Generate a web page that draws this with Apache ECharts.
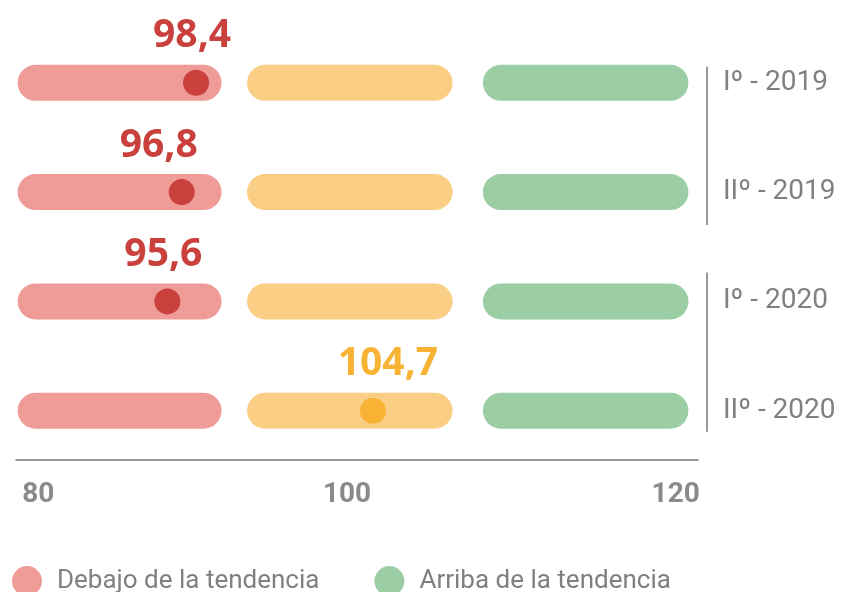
<!DOCTYPE html>
<html>
<head>
<meta charset="utf-8">
<script src="https://cdn.jsdelivr.net/npm/echarts@6/dist/echarts.min.js"></script>
<style>
  html, body { margin: 0; padding: 0; background: #fff; }
  #chart { width: 842px; height: 592px; }
</style>
</head>
<body>
<div id="chart"></div>
<script>
var periods = ['Iº - 2019', 'IIº - 2019', 'Iº - 2020', 'IIº - 2020'];
var debajoRange = [78.7, 91.5];
var enRange = [93.1, 106.0];
var arribaRange = [107.9, 120.8];
var dotPos = [89.9, 89.0, 88.1, 101.0];
var dotValue = [98.4, 96.8, 95.6, 104.7];
var tickLabels = [80, 100, 120];
var years = [[0, 1], [2, 3]];

var labelShift = [-4, -23, -4, 15];

var box = echarts.init(document.getElementById('chart'));

function bandData(range) {
    return periods.map(function (p, i) { return [i, range[0], range[1]]; });
}

function renderBand(params, api) {
    var a = api.coord([api.value(1), api.value(0)]);
    var b = api.coord([api.value(2), api.value(0)]);
    var h = 36;
    return {
        type: 'rect',
        shape: { x: a[0], y: a[1] - h / 2, width: b[0] - a[0], height: h, r: h / 2 },
        style: { fill: api.visual('color') }
    };
}

function bandSeries(name, range, color) {
    return {
        name: name,
        type: 'custom',
        renderItem: renderBand,
        itemStyle: { color: color },
        encode: { x: [1, 2], y: 0 },
        data: bandData(range),
        silent: true
    };
}

var pad = [[-16, 33], [-29, 21]];

option = {
    animation: false,
    grid: {
        left: 16,
        right: 144,
        top: 28.15,
        bottom: 126.65
    },
    legend: {
        data: ['Debajo de la tendencia', 'Arriba de la tendencia'],
        left: 7,
        top: 561,
        icon: 'circle',
        itemWidth: 30,
        itemHeight: 30,
        itemGap: 55,
        selectedMode: false,
        textStyle: {
            fontFamily: 'Roboto',
            fontSize: 26,
            color: '#808080',
            padding: [0, 0, 0, 10]
        }
    },
    xAxis: {
        type: 'value',
        min: 78.6,
        max: 121.4,
        offset: -6,
        splitLine: { show: false },
        axisTick: { show: false },
        axisLine: { show: true, lineStyle: { color: '#777', width: 1.5 } },
        axisLabel: {
            customValues: tickLabels,
            margin: 22,
            fontFamily: 'Roboto',
            fontSize: 28,
            fontWeight: 'bold',
            color: '#8a8a8a',
            formatter: function (v) {
                return v === 100 ? '{mid|' + v + '}' : String(v);
            },
            rich: {
                mid: {
                    fontFamily: 'Roboto',
                    fontSize: 28,
                    fontWeight: 'bold',
                    color: '#8a8a8a',
                    padding: [0, 20, 0, 0]
                }
            }
        }
    },
    yAxis: {
        type: 'category',
        data: periods,
        inverse: true,
        position: 'right',
        axisLine: { show: false },
        axisTick: { show: false },
        axisLabel: {
            margin: 25,
            fontFamily: 'Roboto',
            fontSize: 28,
            color: '#808080'
        }
    },
    series: [
        bandSeries('Debajo de la tendencia', debajoRange, '#EF9B97'),
        bandSeries('En la tendencia', enRange, '#FACE85'),
        bandSeries('Arriba de la tendencia', arribaRange, '#9CCEA5'),
        {
            type: 'custom',
            silent: true,
            clip: false,
            renderItem: function (params, api) {
                var top = api.coord([100, api.value(0)]);
                var bot = api.coord([100, api.value(1)]);
                var x = params.coordSys.x + params.coordSys.width + 9;
                var p = pad[params.dataIndex];
                return {
                    type: 'line',
                    shape: { x1: x, y1: top[1] + p[0], x2: x, y2: bot[1] + p[1] },
                    style: { stroke: '#999', lineWidth: 2 }
                };
            },
            data: years
        },
        {
            type: 'scatter',
            symbolSize: 26,
            silent: true,
            z: 5,
            data: dotPos.map(function (v, i) {
                var inEn = v >= enRange[0] && v <= enRange[1];
                var c = inEn ? '#F8B334' : '#C9403D';
                return {
                    value: [v, i],
                    itemStyle: { color: c, opacity: 1 },
                    label: {
                        show: true,
                        position: 'top',
                        distance: 14,
                        offset: [labelShift[i], 0],
                        formatter: String(dotValue[i]).replace('.', ','),
                        fontFamily: 'Open Sans',
                        fontSize: 39,
                        fontWeight: 'bold',
                        color: c,
                        opacity: 1
                    }
                };
            })
        }
    ]
};
box.setOption(option);
</script>
</body>
</html>
